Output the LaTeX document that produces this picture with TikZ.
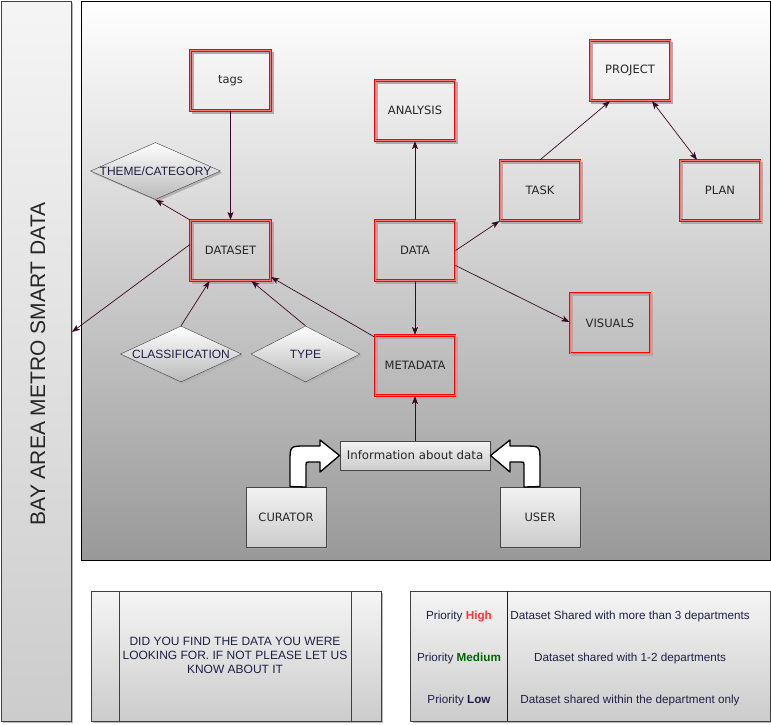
\documentclass[tikz,border=0pt]{standalone}
\usepackage{fontspec}
\setmainfont{Liberation Sans}
\newfontfamily\boxfont{DejaVu Sans}
\usepackage{xcolor}
\usetikzlibrary{arrows.meta, shapes.geometric, shadows}
\definecolor{lnk}{HTML}{3A0A24}
\definecolor{nv}{HTML}{1F1F45}
\definecolor{hi}{HTML}{FF3333}
\definecolor{md}{HTML}{006600}

\begin{document}
\begin{tikzpicture}[
      x = 1pt, y = -1pt, % one unit per pixel, y downwards
      > = {Stealth[length = 8pt, width = 6pt, inset = 2pt]}, % arrow head style
      semithick, % line style
    ]

    \tikzstyle{entity}=[
      rectangle,
      draw = red, double = red!55, double distance = 0.5pt, line width = 1.2pt,
      minimum width = 80, minimum height = 60,
      font = \boxfont\fontsize{11.5}{13}\selectfont, text = black!85,
      drop shadow = {shadow xshift = 2pt, shadow yshift = -2pt,
        fill = none, draw = gray!65, line width = 2pt, opacity = 1}
    ]
    \tikzstyle{person}=[
      rectangle, draw = gray!55!black, line width = 1pt,
      top color = gray!10, bottom color = gray!40,
      minimum width = 80, minimum height = 60,
      font = \boxfont\fontsize{11.5}{13}\selectfont, text = black!85,
      drop shadow = {shadow xshift = 2pt, shadow yshift = -2pt,
        fill = gray!70, opacity = 1}
    ]
    \tikzstyle{attr}=[
      diamond, draw = gray!50!black, thin, inner sep = 0pt,
      top color = white, bottom color = gray!55,
      drop shadow = {shadow xshift = 2pt, shadow yshift = -2pt,
        fill = gray!60, opacity = 1}
    ]
    \tikzstyle{every label}=[font = \fontsize{12}{14}\selectfont, text = nv]
    \tikzstyle{panel}=[
      rectangle, draw = gray!50!black, thin,
      top color = gray!8, bottom color = gray!40,
      drop shadow = {shadow xshift = 2pt, shadow yshift = -2pt,
        fill = gray!55, opacity = 1}
    ]
    \tikzstyle{link}=[->, draw = lnk, line width = 0.7pt]
    \tikzstyle{fat}=[draw = black, fill = white, line width = 1.3pt, line join = round]

    \useasboundingbox (0,0) rectangle (771,724);

    % frames
    \node[panel, minimum width = 70, minimum height = 720] (bay) at (36,361) {};
    \node[rotate = 90, font = \fontsize{21}{24}\selectfont, text = black!85] (baytitle) at (38,364) {BAY AREA METRO SMART DATA};
    \node[rectangle, draw = black, thin, top color = white, bottom color = gray!80,
      minimum width = 689, minimum height = 559] (main) at (425.5,280.5) {};

    % entities
    \node[entity] (tags) [at={(230.5, 80.5)}] {tags};
    \node[entity] (analysis) [at={(415, 110.5)}] {ANALYSIS};
    \node[entity] (dataset) [at={(230.5, 250.5)}] {DATASET};
    \node[entity] (data) [at={(415, 250.5)}] {DATA};
    \node[entity] (task) [at={(540, 190.5)}] {TASK};
    \node[entity] (project) [at={(630, 70.5)}] {PROJECT};
    \node[entity] (plan) [at={(720, 190.5)}] {PLAN};
    \node[entity] (visuals) [at={(610, 323)}] {VISUALS};
    \node[entity] (metadata) [at={(415, 365.5)}] {METADATA};

    % attributes
    \node[attr, minimum width = 130, minimum height = 57,
      label = {center:THEME/CATEGORY}] (theme) [at={(155.5, 171)}] {};
    \node[attr, minimum width = 121, minimum height = 56,
      label = {center:CLASSIFICATION}] (class) [at={(181, 354)}] {};
    \node[attr, minimum width = 109, minimum height = 56,
      label = {center:TYPE}] (type) [at={(305.5, 354)}] {};

    % people
    \node[person, minimum width = 150, minimum height = 29,
      font = \boxfont\fontsize{11.8}{13}\selectfont] (info) [at={(415, 455.5)}] {Information about data};
    \node[person] (curator) [at={(286, 517)}] {CURATOR};
    \node[person] (user) [at={(540, 517)}] {USER};

    \coordinate (baypt) at (72, 332);

    \draw[link] (tags) -- (dataset);
    \draw[link] (dataset.north west) -- (theme.south);
    \draw[link] ([yshift = 6pt]dataset.west) -- (baypt);
    \draw[link] (class.north) -- ([xshift = -21pt]dataset.south);
    \draw[link] (type.north) -- ([xshift = 21pt]dataset.south);
    \draw[link] ([yshift = -2pt]metadata.north west) -- ([yshift = 4pt]dataset.south east);
    \draw[link] (data) -- (analysis);
    \draw[link] (data) -- (metadata);
    \draw[link] (data.east) -- (task.south west);
    \draw[link] ([yshift = -15pt]data.east) -- ([yshift = 1pt]visuals.west);
    \draw[link] (task.north) -- ([xshift = -20pt]project.south);
    \draw[link, <->] ([xshift = 22pt]project.south) -- ([xshift = -23pt]plan.north);
    \draw[link] (info) -- (metadata);

    % bent block arrows
    \draw[fat] ([xshift = 4pt]curator.north) -- (290,462) .. controls (290,446) .. (306,446)
      -- (320,446) -- (320,440) -- (info.west) -- (320,472) -- (320,462)
      -- (309,462) .. controls (306,462) .. (306,465) -- (306,487) -- cycle;
    \draw[fat] (user.north) -- (540,462) .. controls (540,446) .. (524,446)
      -- (510,446) -- (510,440) -- (info.east) -- (510,472) -- (510,462)
      -- (521,462) .. controls (524,462) .. (524,465) -- (524,487) -- cycle;

    % bottom notes
    \node[panel, minimum width = 290, minimum height = 130] (ask) at (236,656) {};
    \draw[gray!50!black, thin] (119,591) -- (119,721) (351,591) -- (351,721);
    \node[align = center, text = nv, font = \fontsize{12}{14}\selectfont] (asktext) at (235,655)
      {DID YOU FIND THE DATA YOU WERE\\LOOKING FOR. IF NOT PLEASE LET US\\KNOW ABOUT IT};

    \node[panel, minimum width = 360, minimum height = 130] (prio) at (590.5,656) {};
    \draw[lnk, thin] (507,591) -- (507,721);
    \begin{scope}[every node/.style = {text = nv, font = \fontsize{11.7}{13}\selectfont}]
      \node (p1) at (459,616) {Priority \textcolor{hi}{\textbf{High}}};
      \node (p2) at (459,658) {Priority \textcolor{md}{\textbf{Medium}}};
      \node (p3) at (459,700) {Priority \textbf{Low}};
      \node (d1) at (630,616) {Dataset Shared with more than 3 departments};
      \node (d2) at (630,658) {Dataset shared with 1-2 departments};
      \node (d3) at (630,700) {Dataset shared within the department only};
    \end{scope}
  \end{tikzpicture}
\end{document}
